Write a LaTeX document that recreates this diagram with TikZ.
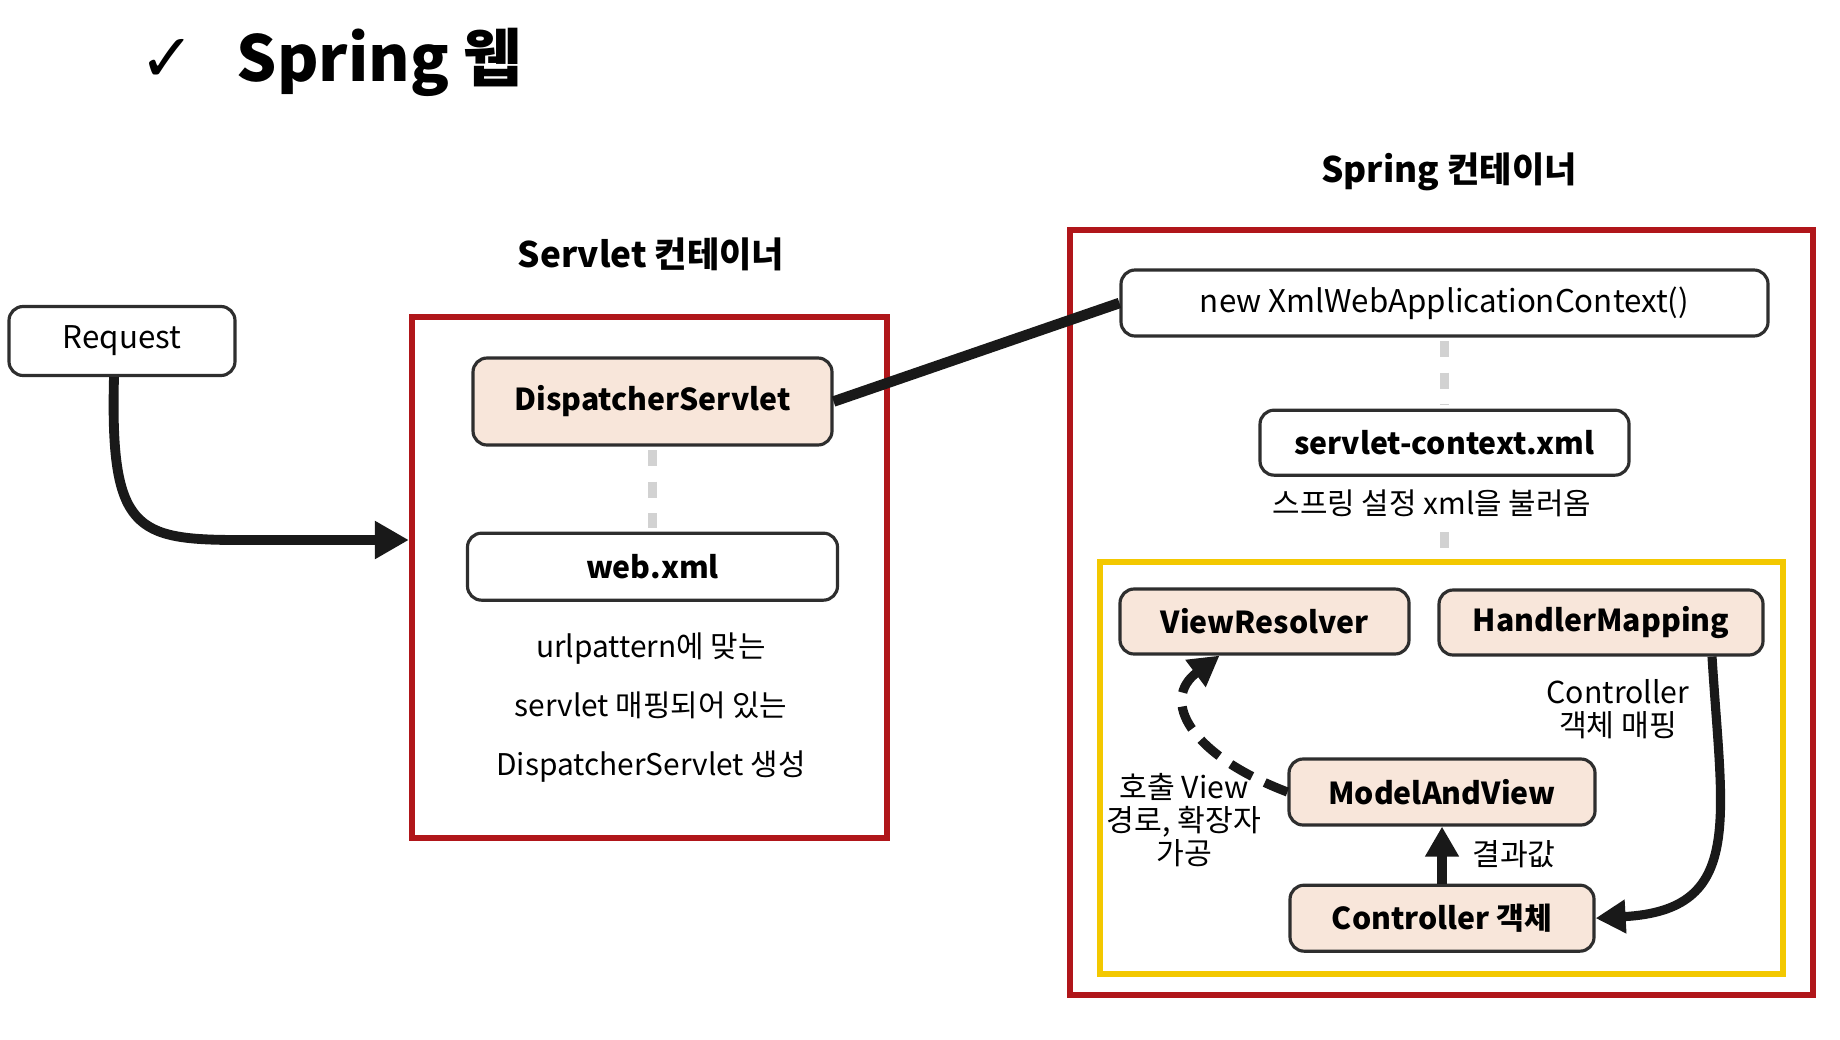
\documentclass[tikz,border=0pt]{standalone}
\usepackage{fontspec}
\setmainfont{Noto Sans CJK KR}
\newfontfamily\checkfont{DejaVu Sans}
\usepackage{xcolor}
\usepackage{tikz}
\usetikzlibrary{arrows.meta, positioning, calc}

\definecolor{boxred}{HTML}{B0161A}
\definecolor{boxyellow}{HTML}{F3C800}
\definecolor{peach}{HTML}{F8E6DA}
\definecolor{edgegray}{HTML}{2E2E2E}

\begin{document}
\begin{tikzpicture}[
  box/.style={draw=edgegray, line width=0.9pt, rounded corners=4pt, fill=white,
              align=center, inner sep=2pt, font=\fontsize{8.9}{11}\selectfont},
  boldbox/.style={box, font=\bfseries\fontsize{8.6}{11}\selectfont},
  classbox/.style={boldbox, fill=peach},
  container/.style={draw=boxred, line width=1.8pt, inner sep=0pt},
  note/.style={align=center, font=\fontsize{8.5}{16.8}\selectfont},
  smallnote/.style={align=center, font=\fontsize{8.6}{9.4}\selectfont},
  header/.style={font=\bfseries\fontsize{10}{12}\selectfont},
  link/.style={line width=3pt, black!90},
  dots/.style={line width=2.6pt, gray!35, dash pattern=on 4.5pt off 4.5pt,
               shorten <=1pt, shorten >=1pt},
  bigarr/.style={-{Triangle[length=0.34cm, width=0.36cm]}, line width=2.8pt, black!90},
  arr/.style={-{Triangle[length=0.3cm, width=0.32cm]}, line width=2.6pt, black!90},
  node distance=0.6cm
]
  \useasboundingbox (0,0) rectangle (18.40,-10.39);

  \node[font=\checkfont\fontsize{19}{21}\selectfont] (check) at (1.67,-0.60) {✓};
  \node[anchor=west, inner sep=0pt, font=\bfseries\fontsize{18}{21}\selectfont] (title) at (2.36,-0.62) {Spring 웹};

  \node[container, minimum width=4.75cm, minimum height=5.21cm] (servbox) at (6.495,-5.775) {};
  \node[container, minimum width=7.43cm, minimum height=7.65cm] (springbox) at (14.415,-6.125) {};
  \node[container, draw=boxyellow, minimum width=6.83cm, minimum height=4.12cm] (mvcbox) at (14.415,-7.68) {};

  \node[header] (servhdr) at (6.51,-2.54) {Servlet 컨테이너};
  \node[header] (springhdr) at (14.49,-1.72) {Spring 컨테이너};

  \node[box, minimum width=2.26cm, minimum height=0.69cm] (request) at (1.22,-3.41) {Request};

  \node[classbox, minimum width=3.59cm, minimum height=0.87cm] (dispatcher) at (6.525,-4.015) {DispatcherServlet};
  \node[boldbox, minimum width=3.70cm, minimum height=0.67cm, below=0.85cm of dispatcher] (webxml) {web.xml};
  \node[note] (urldesc) at (6.51,-7.08) {urlpattern에 맞는\\servlet 매핑되어 있는\\DispatcherServlet 생성};

  \node[box, minimum width=6.47cm, minimum height=0.66cm] (xmlctx) at (14.445,-3.03) {new XmlWebApplicationContext()};
  \node[boldbox, minimum width=3.69cm, minimum height=0.65cm, below=0.71cm of xmlctx] (ctxxml) {servlet-context.xml};
  \node[note] (springdesc) at (14.32,-5.03) {스프링 설정 xml을 불러옴};

  \node[classbox, minimum width=2.89cm, minimum height=0.65cm] (vr) at (12.645,-6.215) {ViewResolver};
  \node[classbox, minimum width=3.24cm, minimum height=0.65cm] (hm) at (16.01,-6.225) {HandlerMapping};
  \node[classbox, minimum width=3.06cm, minimum height=0.66cm] (mav) at (14.42,-7.92) {ModelAndView};
  \node[classbox, minimum width=3.04cm, minimum height=0.66cm, below=0.57cm of mav] (controller) {Controller 객체};

  \node[smallnote] (maplbl) at (16.18,-7.09) {Controller\\객체 매핑};
  \node[smallnote] (resultlbl) at (15.14,-8.54) {결과값};
  \node[smallnote] (viewlbl) at (11.84,-8.20) {호출 View\\경로, 확장자\\가공};

  \draw[dots] (dispatcher) -- (webxml);
  \draw[dots] (xmlctx) -- (ctxxml);
  \draw[dots] (springdesc.south -| xmlctx) -- (mvcbox.north -| xmlctx);

  \draw[link] (dispatcher.east) -- (xmlctx.west);
  \draw[bigarr] ([xshift=-0.08cm]request.south) .. controls (1.10,-5.30) and (1.35,-5.40) .. (2.4,-5.40) -- ([yshift=0.375cm]servbox.west);
  \draw[arr] (controller) -- (mav);
  \draw[arr] ([xshift=1.11cm]hm.south) .. controls (17.22,-8.2) and (17.45,-9.1) .. (controller.east);
  \draw[arr, dash pattern=on 7pt off 4pt] (mav.west) .. controls (11.9,-7.55) and (11.6,-7.0) .. ([xshift=-0.45cm]vr.south);
\end{tikzpicture}
\end{document}
